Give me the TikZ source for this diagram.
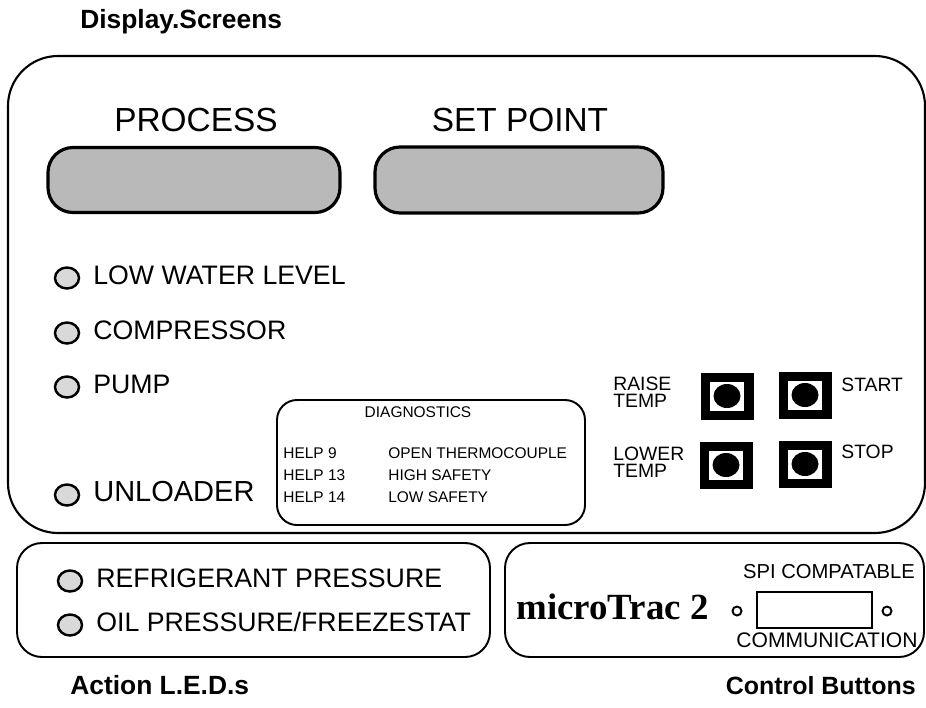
\documentclass[tikz,border=0pt]{standalone}
\usepackage{fontspec}
\setmainfont{Liberation Sans}
\newfontfamily\timesfont{Liberation Serif}
\usetikzlibrary{shapes.geometric}
\begin{document}
\begin{tikzpicture}[x=0.2mm,y=-0.2mm,
	lbl/.style={inner sep=0pt,text height=0.72em,text depth=0pt},
	head/.style={lbl,font=\fontsize{15}{17}\selectfont\bfseries},
	big/.style={lbl,font=\fontsize{19}{22}\selectfont},
	ledtxt/.style={lbl,anchor=west,font=\fontsize{15.2}{18}\selectfont},
	diag/.style={lbl,anchor=west,font=\fontsize{8.8}{10}\selectfont},
	btntxt/.style={inner sep=0pt,anchor=west,align=left,font=\fontsize{11}{9.7}\selectfont},
	panel/.style={draw,line width=1.2pt,rounded corners=10mm},
	box/.style={draw,line width=1.1pt,rounded corners=5mm},
	screen/.style={draw,line width=1.8pt,fill=gray!55,rounded corners=5mm,inner sep=0pt},
	led/.style={draw,ellipse,line width=1.4pt,fill=gray!30,inner sep=0pt,minimum width=4.8mm,minimum height=4.2mm},
	btn/.style={fill=black,inner sep=0pt,minimum width=10.6mm,minimum height=9.4mm}]
	\useasboundingbox (0,0) rectangle (926,708);
	\node[head,anchor=west] (disp) at (80,22) {Display.Screens};
	\draw[panel] (8,56) rectangle (925,533);
	\node[big] (procl) at (196,125) {PROCESS};
	\node[big] (setl) at (520,125) {SET POINT};
	\node[screen,minimum width=58.4mm,minimum height=13mm] (proc) at (194,180) {};
	\node[screen,minimum width=57.6mm,minimum height=13.2mm] (setp) at (519,180) {};
	\foreach \y/\txt/\n in {278/LOW WATER LEVEL/lw,333/COMPRESSOR/co,387/PUMP/pu}{
		\node[led] (led\n) at (67,\y) {};
		\node[ledtxt] (txt\n) at (93,\y) {\txt};
	}
	\node[led] (ledun) at (67,495) {};
	\node[ledtxt,font=\fontsize{16.5}{18}\selectfont] (txtun) at (93,495) {UNLOADER};
	\draw[box,rounded corners=4mm] (277,400) rectangle (585,525);
	\node[lbl,font=\fontsize{8.8}{10}\selectfont] (diagt) at (418,411) {DIAGNOSTICS};
	\foreach \y/\h/\txt/\n in {452/HELP 9/OPEN THERMOCOUPLE/a,474/HELP 13/HIGH SAFETY/b,496/HELP 14/LOW SAFETY/c}{
		\node[diag] (help\n) at (283,\y) {\h};
		\node[diag] (err\n) at (388,\y) {\txt};
	}
	\foreach \x/\y/\n in {727/396/raise,805/395/start,726/465/lower,805/464/stop}{
		\node[btn] (b\n) at (\x,\y) {};
		\node[fill=white,inner sep=0pt,minimum width=6.8mm,minimum height=5.8mm] at (b\n) {};
		\fill (b\n) ellipse (2.7mm and 2.4mm);
	}
	\node[btntxt] (traise) at (613,392) {RAISE\\TEMP};
	\node[btntxt] (tlower) at (613,462) {LOWER\\TEMP};
	\node[btntxt,lbl] (tstart) at (841,385) {START};
	\node[btntxt,lbl] (tstop) at (841,452) {STOP};
	\draw[box] (17,543) rectangle (490,657);
	\foreach \y/\txt/\n in {581/REFRIGERANT PRESSURE/rp,625/{OIL PRESSURE/FREEZESTAT}/op}{
		\node[led] (led\n) at (70,\y) {};
		\node[ledtxt] (txt\n) at (96,\y) {\txt};
	}
	\draw[box] (505,543) rectangle (924,657);
	\node[inner sep=0pt,anchor=west,font=\fontsize{21}{23}\selectfont\timesfont\bfseries] (brand) at (516,607) {microTrac 2};
	\node[lbl,font=\fontsize{11.5}{13}\selectfont] (spi) at (829,572) {SPI COMPATABLE};
	\draw[line width=1pt] (757,592) rectangle (872,628);
	\draw[line width=1.1pt] (737,611) circle (4.5) (887,611) circle (4.5);
	\node[lbl,font=\fontsize{12}{14}\selectfont] (comm) at (827,641) {COMMUNICATION};
	\node[head,anchor=west] (act) at (70,688) {Action L.E.D.s};
	\node[head,anchor=east,font=\fontsize{14.2}{16}\selectfont\bfseries] (ctrl) at (916,688) {Control Buttons};
\end{tikzpicture}
\end{document}
